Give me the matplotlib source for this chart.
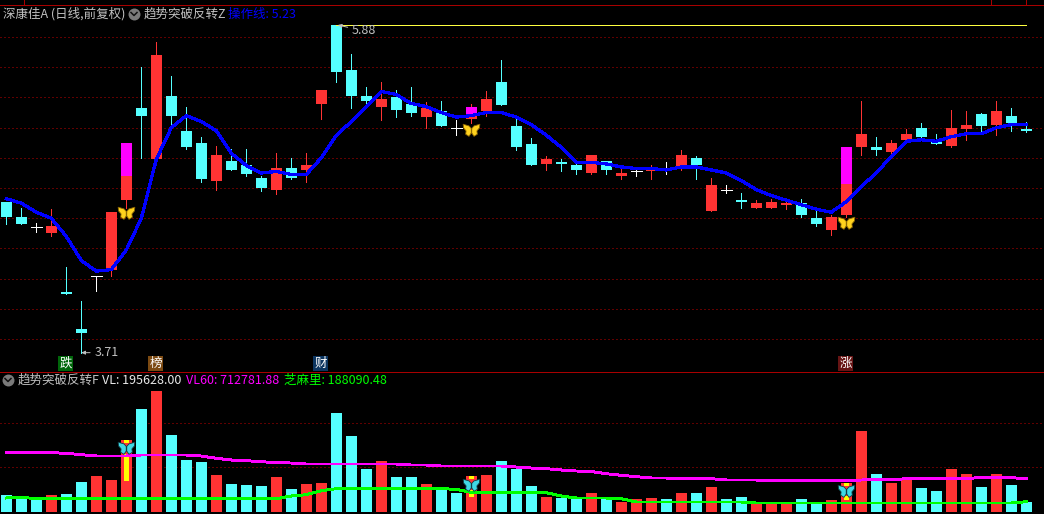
import numpy as np
import matplotlib
matplotlib.use("Agg")
import matplotlib.pyplot as plt
from matplotlib.path import Path

plt.rcParams["font.family"] = ["Noto Sans CJK SC", "DejaVu Sans"]

OPEN = [4.71, 4.61, 4.54, 4.50, 4.11, 3.87, 4.22, 4.26, 4.72, 5.33,
        4.99, 5.41, 5.18, 5.10, 4.85, 4.98, 4.95, 4.87, 4.79, 4.93,
        4.92, 5.36, 5.88, 5.58, 5.41, 5.34, 5.40, 5.36, 5.27, 5.31,
        5.20, 5.26, 5.31, 5.50, 5.21, 5.09, 4.96, 4.97, 4.95, 4.90,
        4.98, 4.88, 4.91, 4.91, 4.93, 4.94, 5.00, 4.65, 4.79, 4.72,
        4.67, 4.67, 4.69, 4.70, 4.60, 4.52, 4.62, 5.07, 5.07, 5.04,
        5.12, 5.20, 5.11, 5.08, 5.19, 5.29, 5.22, 5.28, 5.19]
CLOSE = [4.61, 4.56, 4.54, 4.55, 4.10, 3.84, 4.22, 4.64, 5.10, 5.28,
         5.68, 5.28, 5.07, 4.86, 5.02, 4.92, 4.89, 4.80, 4.93, 4.87,
         4.95, 5.45, 5.57, 5.41, 5.38, 5.39, 5.32, 5.30, 5.33, 5.21,
         5.20, 5.34, 5.39, 5.35, 5.07, 4.95, 4.99, 4.96, 4.92, 5.02,
         4.92, 4.90, 4.91, 4.93, 4.93, 5.02, 4.95, 4.82, 4.79, 4.71,
         4.70, 4.71, 4.70, 4.62, 4.56, 4.61, 5.07, 5.16, 5.05, 5.10,
         5.16, 5.14, 5.09, 5.20, 5.22, 5.21, 5.31, 5.23, 5.18]
HIGH = [4.71, 4.67, 4.57, 4.66, 4.28, 4.05, 4.22, 4.64, 5.10, 5.60,
        5.77, 5.54, 5.34, 5.14, 5.08, 5.06, 5.06, 4.88, 5.03, 5.00,
        5.03, 5.45, 5.88, 5.69, 5.47, 5.50, 5.45, 5.47, 5.37, 5.38,
        5.25, 5.36, 5.44, 5.65, 5.28, 5.13, 5.01, 4.99, 4.97, 5.02,
        4.98, 4.93, 4.93, 4.95, 4.97, 5.05, 5.01, 4.87, 4.82, 4.77,
        4.72, 4.73, 4.71, 4.73, 4.65, 4.62, 5.07, 5.38, 5.14, 5.12,
        5.19, 5.23, 5.16, 5.32, 5.31, 5.30, 5.38, 5.33, 5.24]
LOW = [4.56, 4.56, 4.51, 4.48, 4.10, 3.71, 4.12, 4.22, 4.67, 5.00,
       4.99, 5.20, 5.06, 4.84, 4.79, 4.92, 4.88, 4.78, 4.76, 4.86,
       4.84, 5.26, 5.50, 5.33, 5.36, 5.25, 5.27, 5.28, 5.20, 5.21,
       5.15, 5.23, 5.28, 5.35, 5.05, 4.95, 4.92, 4.91, 4.89, 4.89,
       4.89, 4.86, 4.88, 4.86, 4.89, 4.92, 4.86, 4.65, 4.77, 4.67,
       4.67, 4.67, 4.66, 4.61, 4.55, 4.49, 4.61, 5.02, 5.02, 5.02,
       5.12, 5.13, 5.09, 5.07, 5.12, 5.18, 5.15, 5.18, 5.17]
OPER_LINE = [4.73, 4.70, 4.64, 4.60, 4.48, 4.32, 4.25, 4.26, 4.39, 4.60,
             4.99, 5.20, 5.28, 5.24, 5.18, 5.03, 4.95, 4.90, 4.91, 4.89,
             4.89, 5.00, 5.15, 5.24, 5.34, 5.44, 5.42, 5.36, 5.34, 5.30,
             5.27, 5.28, 5.30, 5.30, 5.27, 5.22, 5.15, 5.07, 4.97, 4.97,
             4.96, 4.94, 4.93, 4.93, 4.92, 4.94, 4.94, 4.92, 4.90, 4.85,
             4.79, 4.75, 4.72, 4.69, 4.66, 4.64, 4.71, 4.81, 4.90, 5.01,
             5.11, 5.12, 5.11, 5.14, 5.16, 5.16, 5.20, 5.22, 5.22]

# volumes in units of 10000
VOL = [34, 32, 26, 34, 36, 60, 72, 64, 144, 206,
       242, 154, 104, 100, 74, 56, 54, 52, 70, 46,
       56, 58, 198, 152, 86, 102, 70, 70, 56, 50,
       38, 72, 74, 102, 86, 52, 30, 28, 26, 38,
       26, 20, 26, 28, 26, 38, 38, 50, 26, 30,
       18, 16, 16, 26, 18, 24, 58, 162, 76, 58,
       64, 48, 42, 86, 76, 50, 76, 54, 19.56]
VL60 = [118.6, 118.6, 118.6, 118.6, 117.4, 114.6, 112, 112, 112, 114,
        114, 114, 114, 112, 107.4, 104, 102.6, 100.6, 98.6, 98,
        96, 96, 96, 96, 96, 96, 96, 94, 94, 92,
        92, 92, 92, 92, 90, 88, 86.6, 84, 82, 81,
        76.6, 73.4, 70.6, 68, 68, 66.6, 66.6, 66.6, 64, 64,
        64, 62.6, 62.6, 62.6, 62.6, 62.6, 62.6, 64, 64.6, 64.6,
        66.6, 66.6, 66.6, 66.6, 67.4, 68.6, 68.6, 68.6, 66.6]
GREEN_LINE = [28, 29.4, 26.6, 26.6, 26.6, 26.6, 26.6, 26.6, 26.6, 26.6,
              26.6, 26.6, 26.6, 26.6, 26.6, 26.6, 26.6, 26.6, 26.6, 32,
              34.6, 42.6, 46.6, 46.6, 46.6, 46.6, 46.6, 46.6, 46.6, 46.6,
              45.4, 39.4, 38.6, 38.6, 38.6, 38.6, 38.6, 32, 28, 28,
              28, 26.6, 20, 20, 20, 20, 20, 20, 20, 20,
              18, 18, 18, 18, 18, 18, 18, 18, 18, 18,
              18, 18, 18, 18, 18, 18, 18, 18, 20.6]

DOJI_VOL_UP = [6, 42]

# signal days: candle index, butterfly price, magenta part, yellow part in volume
SIGNAL_IDX = [8, 31, 56]
SIGNAL_PRICE = [4.635, 5.185, 4.57]
MAGENTA_TOP = [5.10, 5.34, 5.07]
MAGENTA_BOTTOM = [4.88, 5.28, 4.83]
SIGNAL_VOL = [128.6, 54, 42]
STRIP_TOP = [117, 44, 32]
STRIP_BOTTOM = [62, 30, 24]

BADGE_IDX = [4, 10, 21, 56]
BADGE_TEXT = ["跌", "榜", "财", "涨"]
BADGE_COLORS = ["#00660a", "#7c4a12", "#0c3560", "#661414"]

RED = "#ff3333"
CYAN = "#55ffff"
WHITE = "#ffffff"
GRID = "#c00000"
BORDER = "#a80000"
GREY = "#c0c0c0"


def price_at(px):
    return 5.88 - (px - 25) / 151


def butterfly():
    right = [(0.03, 0.25), (0.3, 0.55), (1.0, 0.75), (0.95, 0.3), (0.65, -0.05),
             (0.7, -0.45), (0.3, -0.7), (0.03, -0.3)]
    left = [(-x, y) for x, y in reversed(right)]
    verts = []
    codes = []
    for wing in (right, left):
        verts += wing + [wing[0]]
        codes += [Path.MOVETO] + [Path.LINETO] * (len(wing) - 1) + [Path.CLOSEPOLY]
    return Path(verts, codes)


fig = plt.figure(figsize=(10.44, 5.14), dpi=100, facecolor="black")
ax = fig.add_axes([0, (514 - 371) / 514, 1, 366.5 / 514])
vax = fig.add_axes([0, 0.5 / 514, 1, 142 / 514])

x = np.arange(len(OPEN))
xlim = (-6.3 / 15, (1044 - 6.3) / 15)
open_ = np.array(OPEN)
close = np.array(CLOSE)
colors = [RED if c > o else CYAN if c < o else WHITE for o, c in zip(OPEN, CLOSE)]

# price panel
ax.vlines(x, LOW, HIGH, colors=colors, lw=0.72, antialiased=False, zorder=2)
solid = open_ != close
ax.bar(x[solid], np.abs(close - open_)[solid], bottom=np.minimum(open_, close)[solid],
       width=0.733, color=[c for c, s in zip(colors, solid) if s], linewidth=0,
       antialiased=False, zorder=2)
ax.hlines(close[~solid], x[~solid] - 0.36, x[~solid] + 0.36, colors=WHITE, lw=0.7,
          antialiased=False, zorder=2)
ax.bar(SIGNAL_IDX, np.array(MAGENTA_TOP) - np.array(MAGENTA_BOTTOM), bottom=MAGENTA_BOTTOM,
       width=0.733, color="#ff00ff", linewidth=0, antialiased=False, zorder=3)
ax.hlines(max(HIGH), int(np.argmax(HIGH)), x[-1], colors="#ffff40", lw=0.7,
          antialiased=False, zorder=3)
ax.plot(x, OPER_LINE, color="#0000ff", lw=1.6, antialiased=False, zorder=4)
ax.plot(SIGNAL_IDX, SIGNAL_PRICE, ls="none", marker=butterfly(), ms=12, mfc="#ffd21e",
        mec="#8a6400", mew=0.6, zorder=5)
hi = int(np.argmax(HIGH))
lo = int(np.argmin(LOW))
arrow = dict(arrowstyle="-|>,head_length=0.25,head_width=0.12", color=GREY, lw=0.7,
             shrinkA=1, shrinkB=0)
ax.annotate(f"{HIGH[hi]:.2f}", xy=(hi + 0.1, HIGH[hi]), xytext=(14, -6),
            textcoords="offset pixels", color=GREY, fontsize=9, va="center",
            arrowprops=arrow, zorder=6)
ax.annotate(f"{LOW[lo]:.2f}", xy=(lo, LOW[lo]), xytext=(13, 0),
            textcoords="offset pixels", color=GREY, fontsize=9, va="center",
            arrowprops=arrow, zorder=6)
for i, txt, col in zip(BADGE_IDX, BADGE_TEXT, BADGE_COLORS):
    ax.text(i - 0.05, price_at(363.5), txt, color="white", fontsize=9, ha="center",
            va="center", bbox=dict(facecolor=col, edgecolor="none", pad=0.6), zorder=6)
ax.set_ylim(price_at(371), price_at(4.5))
ax.set_yticks(np.arange(3.8, 5.81, 0.2))

# volume panel
vol_colors = [RED if (c > o or (c == o and i in DOJI_VOL_UP)) else CYAN
              for i, (o, c) in enumerate(zip(OPEN, CLOSE))]
vax.bar(x, VOL, width=0.733, color=vol_colors, linewidth=0, antialiased=False, zorder=2)
vax.bar(SIGNAL_IDX, np.array(STRIP_TOP) - np.array(STRIP_BOTTOM), bottom=STRIP_BOTTOM,
        width=0.33, color="#ffff00", linewidth=0, antialiased=False, zorder=3)
vax.bar(SIGNAL_IDX, 6, bottom=np.array(VOL)[SIGNAL_IDX] - 6, width=0.33, color="#ffff00",
        linewidth=0, antialiased=False, zorder=3)
vax.plot(x, VL60, color="#ff00ff", lw=1.4, antialiased=False, zorder=4)
vax.plot(x, GREEN_LINE, color="#00ff00", lw=1.4, antialiased=False, zorder=4)
vax.plot(SIGNAL_IDX, SIGNAL_VOL, ls="none", marker=butterfly(), ms=12, mfc="#3fd8e4",
         mec="#0e3c44", mew=0.6, zorder=5)
vax.set_ylim(-3, 281)
vax.set_yticks([90, 178])

for a in (ax, vax):
    a.set_facecolor("black")
    a.set_xlim(xlim)
    a.set_xticks([])
    a.tick_params(length=0, labelleft=False)
    a.grid(axis="y", color=GRID, lw=0.72, ls=(0, (1, 3)), snap=True,
           dash_capstyle="butt", zorder=1)
    a.set_axisbelow(True)
    for s in a.spines.values():
        s.set_visible(False)

# frame lines, headers and menu buttons, placed in pixels
top = fig.add_axes([0, 0, 1, 1], facecolor="none")
top.set_xlim(0, 1044)
top.set_ylim(514, 0)
top.axis("off")
for y in (4.5, 371.5, 513.5):
    top.axhline(y, color=BORDER, lw=0.72, antialiased=False)
for tx in (23.5, 990.5, 1025.5):
    top.plot([tx, tx], [0, 4.5], color=BORDER, lw=0.72, antialiased=False)

for cx, cy in ((134, 14), (8, 380)):
    top.plot(cx, cy, "o", ms=8.6, mfc="#7a7a7a", mec="none")
    top.plot([cx - 3, cx, cx + 3], [cy - 1.5, cy + 1.5, cy - 1.5], color="#111111", lw=1.1)

labels = [
    (3, 14, "深康佳A (日线,前复权)", GREY),
    (144, 14, "趋势突破反转Z", GREY),
    (228, 14, "操作线: 5.23", "#0000ff"),
    (18, 380, "趋势突破反转F", GREY),
    (102, 380, "VL: 195628.00", "#e8e8e8"),
    (186, 380, "VL60: 712781.88", "#ff00ff"),
    (284, 380, "芝麻里: 188090.48", "#00ff00"),
]
for lx, ly, txt, col in labels:
    top.text(lx, ly, txt, color=col, fontsize=9, ha="left", va="center")

fig.savefig("out.png", dpi=100, facecolor="black")
